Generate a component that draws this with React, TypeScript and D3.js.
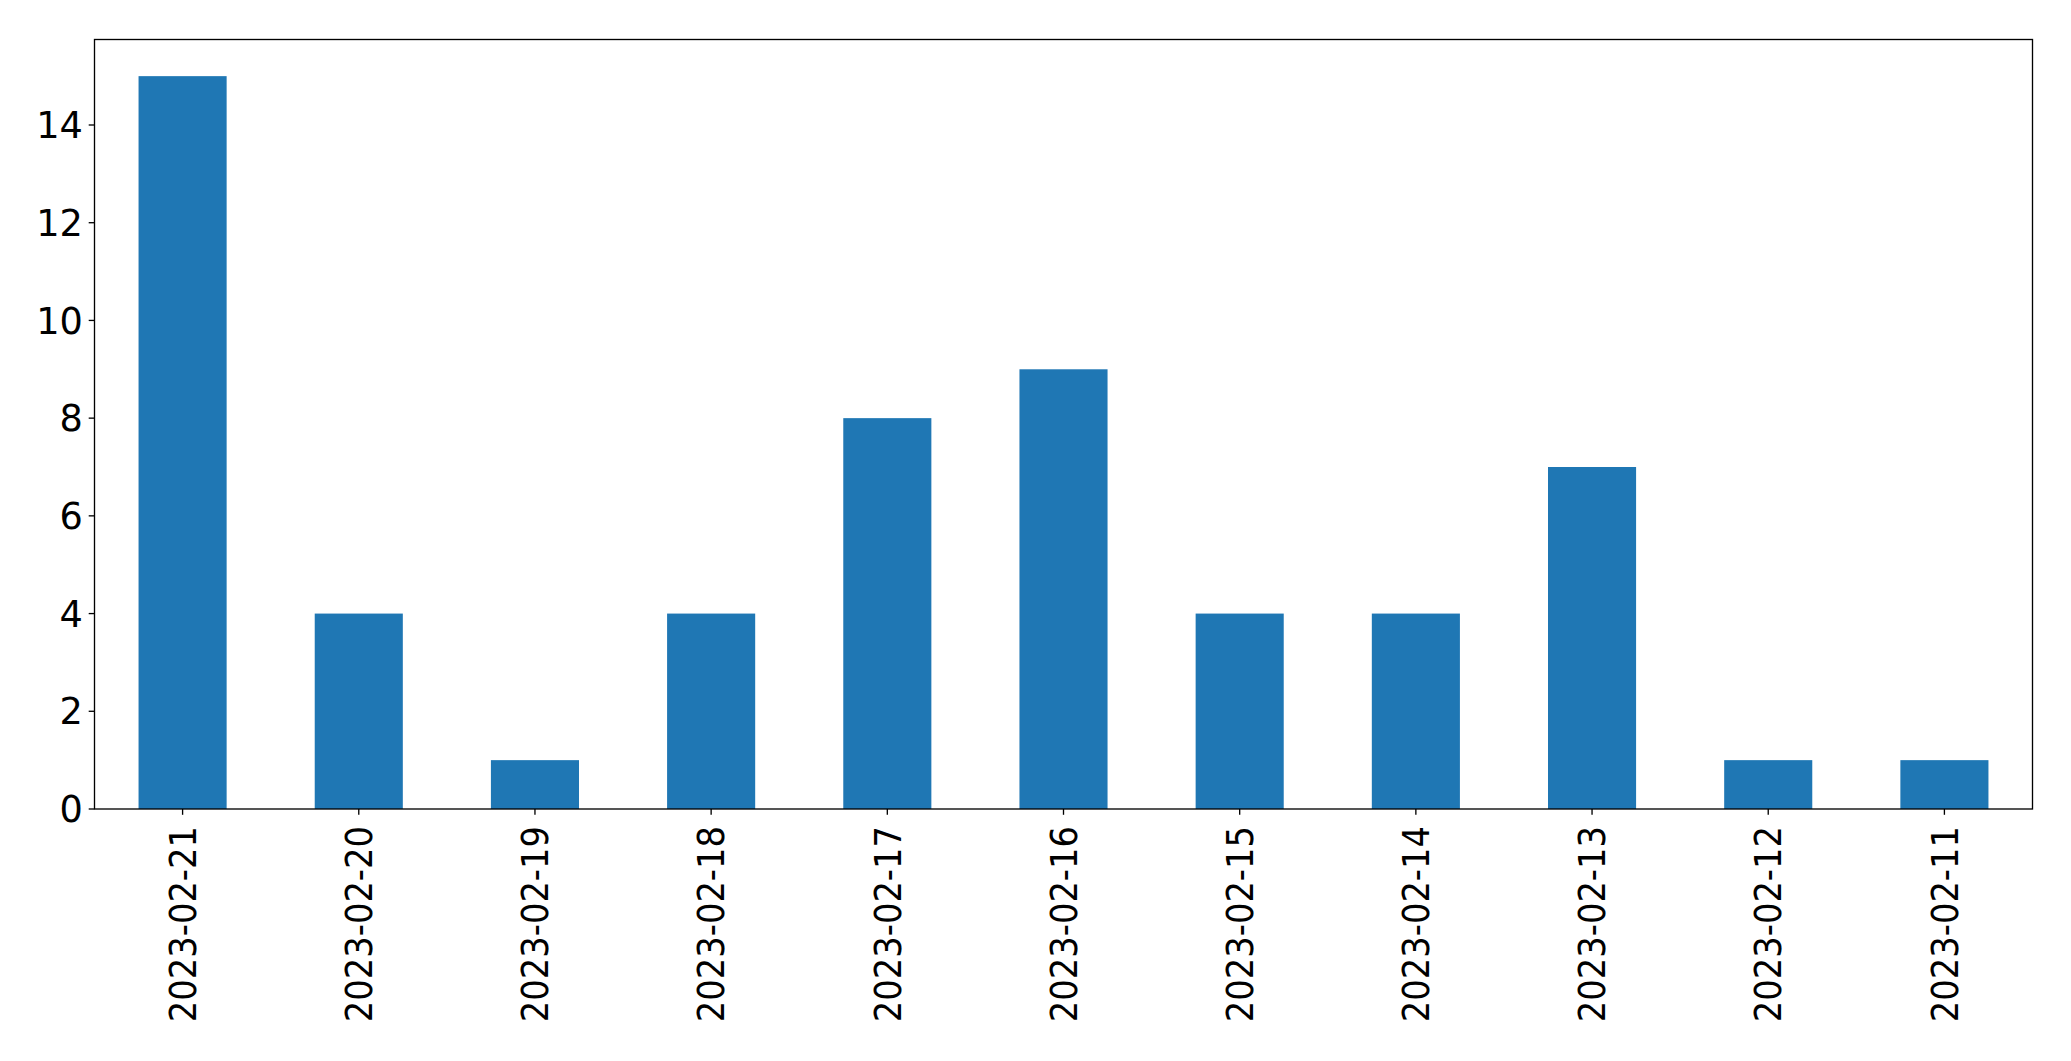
import React from "react";
import * as d3 from "d3";

const categories = [
  "2023-02-21", "2023-02-20", "2023-02-19", "2023-02-18", "2023-02-17", "2023-02-16",
  "2023-02-15", "2023-02-14", "2023-02-13", "2023-02-12", "2023-02-11",
];
const values = [15, 4, 1, 4, 8, 9, 4, 4, 7, 1, 1];
const yTicks = [0, 2, 4, 6, 8, 10, 12, 14];

const W = 2071, H = 1061;
const L = 94.5, R = 2032.5, T = 39.5, B = 809;
const FS = 36.7;
const COLOR = "#1f77b4";

export default function App() {
  const x = d3.scaleLinear().domain([-0.5, categories.length - 0.5]).range([L, R]);
  const y = d3.scaleLinear().domain([0, d3.max(values)! * 1.05]).range([B, T]);
  const bw = 0.5;
  return (
    <svg width={W} height={H} style={{ position: "absolute", left: 0, top: 0, background: "#fff" }}
      fontFamily="'DejaVu Sans', sans-serif">
      {values.map((v, i) => (
        <rect key={i} x={x(i - bw / 2)} y={y(v)} width={x(i + bw / 2) - x(i - bw / 2)} height={y(0) - y(v)} fill={COLOR} />
      ))}
      <rect x={L} y={T} width={R - L} height={B - T} fill="none" stroke="#000" strokeWidth={1.33} />
      {yTicks.map((t) => (
        <g key={t}>
          <line x1={L - 5.8} x2={L} y1={y(t)} y2={y(t)} stroke="#000" strokeWidth={1.33} />
          <text x={L - 5.8 - 5.8} y={y(t)} dy="0.36em" textAnchor="end" fontSize={FS} fill="#000">{t}</text>
        </g>
      ))}
      {categories.map((c, i) => (
        <g key={c}>
          <line x1={x(i)} x2={x(i)} y1={B} y2={B + 5.8} stroke="#000" strokeWidth={1.33} />
          <text transform={`translate(${x(i)},${B + 17}) rotate(-90) scale(0.92,1)`} dy="0.36em" textAnchor="end" fontSize={FS} fill="#000">{c}</text>
        </g>
      ))}
    </svg>
  );
}
